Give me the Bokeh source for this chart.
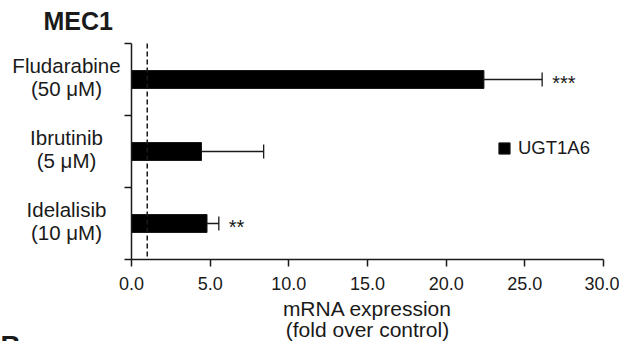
from bokeh.plotting import figure
from bokeh.models import (ColumnDataSource, Range1d, FixedTicker, PrintfTickFormatter,
                          Whisker, TeeHead, Label, Legend, LegendItem)
from bokeh.core.properties import value
from bokeh.embed import file_html
from bokeh.resources import INLINE

# ---- data ----
categories = ["Fludarabine\n(50 μM)", "Ibrutinib\n(5 μM)", "Idelalisib\n(10 μM)"]
positions = [0.5, 1.5, 2.5]
boundaries = [0, 1, 2, 3]
fold_change = [22.4, 4.45, 4.8]
error = [3.7, 3.95, 0.75]
significance = ["***", "", "**"]
x_ticks = [0, 5, 10, 15, 20, 25, 30]
x_min, x_max = 0, 30
control_level = 1.0
series_name = "UGT1A6"
title_text = "MEC1"
x_title = "mRNA expression\n(fold over control)"

FONT = "Liberation Sans"
DARK = "#1a1a1a"

# ---- layout (pixels) ----
W, H = 619, 341
AX_LEFT, AX_RIGHT, AX_TOP, AX_BOTTOM = 131, 603, 43, 259
px_x = (AX_RIGHT - AX_LEFT) / (x_max - x_min)
n = len(categories)
px_y = (AX_BOTTOM - AX_TOP) / n

x_range = Range1d(x_min - AX_LEFT / px_x, x_max + (W - AX_RIGHT) / px_x)
y_range = Range1d(n + (H - AX_BOTTOM) / px_y, 0 - AX_TOP / px_y)

upper = [v + e for v, e in zip(fold_change, error)]
src = ColumnDataSource(dict(y=positions, v=fold_change, up=upper, sig=significance,
                            cat=categories, zero=[x_min] * n))

p = figure(width=W, height=H, output_backend="svg", toolbar_location=None,
           x_range=x_range, y_range=y_range,
           min_border=0, min_border_left=0, min_border_right=0,
           min_border_top=0, min_border_bottom=0)
p.outline_line_color = None
p.xgrid.visible = False
p.ygrid.visible = False
p.background_fill_color = "white"

bars = p.hbar(y="y", left=x_min, right="v", height=0.25, source=src,
              fill_color="black", line_color=DARK, line_width=1)

err = Whisker(base="y", lower="v", upper="up", dimension="width", source=src,
              line_color=DARK, line_width=1.3, lower_head=None,
              upper_head=TeeHead(size=14, line_color=DARK, line_width=1.3))
p.add_layout(err)

# control reference line (dashed) across the category span
p.segment(x0=control_level, y0=boundaries[0], x1=control_level, y1=boundaries[-1],
          line_color=DARK, line_width=1.5, line_dash="5 3")

# significance stars
p.text(x="up", y="y", text="sig", source=src, x_offset=10, y_offset=3,
       text_font=value(FONT), text_font_size="20px", text_color=DARK,
       text_baseline="alphabetic", text_align="left")

# category labels, centred left of the y axis
p.text(x="zero", y="y", text="cat", source=src, x_offset=-65, y_offset=-3,
       text_font=value(FONT), text_font_size="20.5px", text_color=DARK,
       text_align="center", text_baseline="middle", text_line_height=1.0)

# x axis
xa = p.xaxis[0]
xa.fixed_location = n
xa.bounds = (x_min, x_max)
xa.ticker = FixedTicker(ticks=x_ticks)
xa.formatter = PrintfTickFormatter(format="%.1f")
xa.major_label_text_font = FONT
xa.major_label_text_font_size = "18px"
xa.major_label_text_color = DARK
xa.major_label_standoff = 10
xa.major_tick_out = 7
xa.major_tick_in = 0
xa.minor_tick_line_color = None
xa.axis_line_width = 1.5
xa.axis_line_color = DARK
xa.major_tick_line_color = DARK
xa.major_tick_line_width = 1.5
xa.axis_label = x_title
xa.axis_label_text_font = FONT
xa.axis_label_text_font_size = "21px"
xa.axis_label_text_font_style = "normal"
xa.axis_label_text_color = DARK
xa.axis_label_standoff = 4
xa.axis_label_text_line_height = 0.93

# y axis: ticks at category boundaries, no labels
ya = p.yaxis[0]
ya.fixed_location = x_min
ya.bounds = (boundaries[0], boundaries[-1])
ya.ticker = FixedTicker(ticks=boundaries)
ya.major_label_overrides = {b: "" for b in boundaries}
ya.major_tick_out = 7
ya.major_tick_in = 0
ya.minor_tick_line_color = None
ya.axis_line_width = 1.5
ya.axis_line_color = DARK
ya.major_tick_line_color = DARK
ya.major_tick_line_width = 1.5

legend = Legend(items=[LegendItem(label=series_name, renderers=[bars])],
                location=(497, 182), glyph_width=14, glyph_height=14,
                padding=0, margin=0, label_standoff=7, border_line_color=None,
                background_fill_alpha=0, label_text_font=FONT,
                label_text_font_size="18.5px", label_text_color=DARK)
p.add_layout(legend)

p.add_layout(Label(x=43, y=H - 20, x_units="screen", y_units="screen", text=title_text,
                   text_font=FONT, text_font_size="25px", text_font_style="bold",
                   text_color=DARK, text_baseline="alphabetic"))
p.add_layout(Label(x=0, y=H - 329, x_units="screen", y_units="screen", text="B",
                   text_font=FONT, text_font_size="28px", text_font_style="bold",
                   text_color=DARK, text_baseline="top"))

open("out.html", "w").write(file_html(p, INLINE))
